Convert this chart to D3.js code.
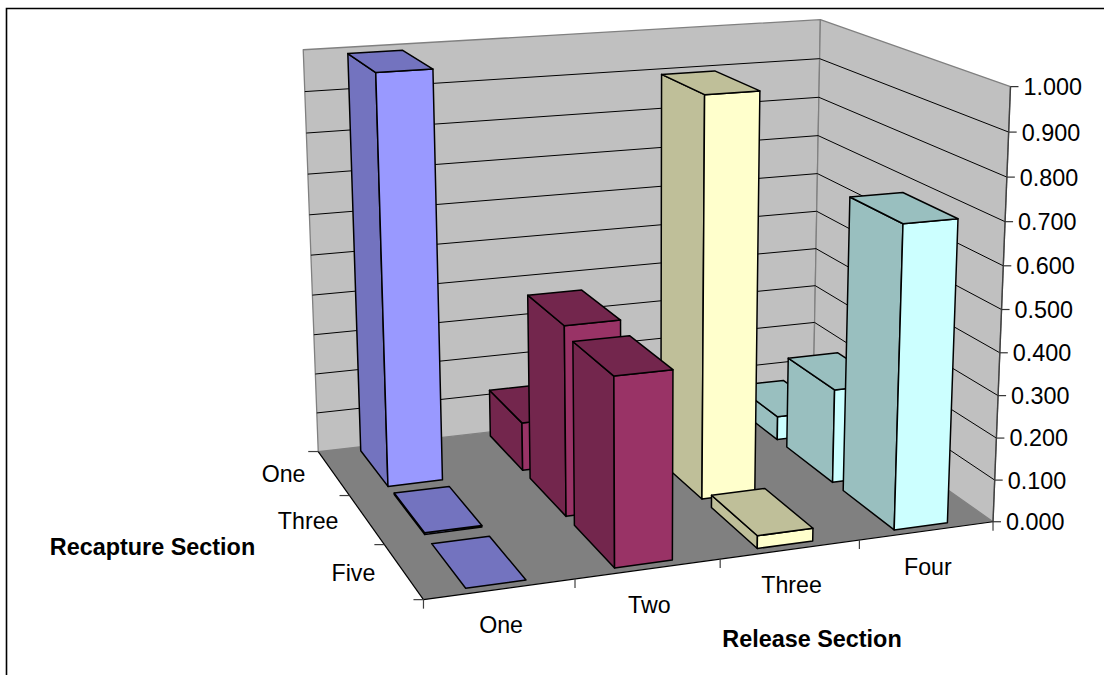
<!DOCTYPE html>
<html><head><meta charset="utf-8">
<style>html,body{margin:0;padding:0;background:#fff;overflow:hidden}svg{display:block}text{font-family:"Liberation Sans",Arial,sans-serif;fill:#000}</style>
<script src="https://d3js.org/d3.v7.min.js"></script></head><body>
<svg id="c" width="1104" height="675"></svg>
<script>
const releaseSections = ["One","Two","Three","Four"];
const recaptureSections = ["One","Three","Five"];
const valueTicks = [0,0.1,0.2,0.3,0.4,0.5,0.6,0.7,0.8,0.9,1.0];
const seriesOne = [0.99,0.12,0.0,0.06];
const seriesThree = [0.004,0.453,0.955,0.23];
const seriesFive = [0.0,0.433,0.03,0.708];
const faceFront = ["#9999FF","#993366","#FFFFCC","#CCFFFF"];
const faceDark = ["#7373BF","#73264D","#BFBF99","#99BFBF"];
const seriesValues = [seriesOne,seriesThree,seriesFive];

// Camera: fit a projective map of the plot cube from its visible corners.
const anchors = [
 [0,0,0,318,451],[1,0,0,813,395],[0,1,0,424,600],[1,1,0,993,522],
 [0,0,1,303,50],[1,0,1,821,20],[1,1,1,1010,86]];
function solve(A,b){const n=b.length;const M=A.map((r,i)=>[...r,b[i]]);
 for(let i=0;i<n;i++){let p=i;for(let k=i+1;k<n;k++)if(Math.abs(M[k][i])>Math.abs(M[p][i]))p=k;
  [M[i],M[p]]=[M[p],M[i]];
  for(let k=0;k<n;k++){if(k===i)continue;const f=M[k][i]/M[i][i];for(let j=i;j<=n;j++)M[k][j]-=f*M[i][j];}}
 return M.map((r,i)=>r[n]/r[i]);}
const rows=[],rhs=[];
anchors.forEach(([u,v,w,x,y])=>{
 rows.push([u,v,w,1,0,0,0,0,-x*u,-x*v,-x*w]);rhs.push(x);
 rows.push([0,0,0,0,u,v,w,1,-y*u,-y*v,-y*w]);rhs.push(y);});
const ATA=d3.range(11).map(i=>d3.range(11).map(j=>d3.sum(rows,r=>r[i]*r[j])));
const ATb=d3.range(11).map(i=>d3.sum(rows,(r,k)=>r[i]*rhs[k]));
const m=solve(ATA,ATb);
function cube(u,v,w){const d=m[8]*u+m[9]*v+m[10]*w+1;
 return [(m[0]*u+m[1]*v+m[2]*w+m[3])/d,(m[4]*u+m[5]*v+m[6]*w+m[7])/d];}

const uScale=d3.scaleLinear().domain([0,releaseSections.length]).range([0,1]);
const vScale=d3.scaleLinear().domain([0,recaptureSections.length]).range([0,1]);
const wScale=d3.scaleLinear().domain([0,1]).range([0,1]);
const P=(i,j,val)=>cube(uScale(i),vScale(j),wScale(val));
const line=d3.line();
const nR=releaseSections.length,nD=recaptureSections.length;

const svg=d3.select("#c");
const poly=(g,pts,fill,stroke,sw)=>g.append("path").attr("d",line(pts)+"Z").attr("fill",fill).attr("stroke",stroke||"none").attr("stroke-width",sw||0).attr("stroke-linejoin","round");
const seg=(g,a,b,c,sw)=>g.append("line").attr("x1",a[0]).attr("y1",a[1]).attr("x2",b[0]).attr("y2",b[1]).attr("stroke",c).attr("stroke-width",sw);

// frame
svg.append("path").attr("d","M6.5,675V8.5H1104").attr("fill","none").attr("stroke","#000").attr("stroke-width",1.6);

// walls and floor
const walls=svg.append("g");
poly(walls,[P(0,0,0),P(nR,0,0),P(nR,0,1),P(0,0,1)],"#C0C0C0","#808080",1.3);
poly(walls,[P(nR,0,0),P(nR,nD,0),P(nR,nD,1),P(nR,0,1)],"#C0C0C0","#808080",1.3);
poly(walls,[P(0,0,0),P(nR,0,0),P(nR,nD,0),P(0,nD,0)],"#808080");
valueTicks.slice(1,-1).forEach(t=>{
 const a=P(0,0,t),b=P(nR,0,t),c=P(nR,nD,t);
 walls.append("path").attr("d",line([a,b,c])).attr("fill","none").attr("stroke","#000").attr("stroke-width",1);
});

// axes edges and ticks
const axes=svg.append("g");
seg(axes,P(0,0,0),P(0,nD,0),"#000",1.2);
seg(axes,P(0,nD,0),P(nR,nD,0),"#000",1.2);
seg(axes,P(nR,nD,0),P(nR,nD,1),"#404040",1.4);
valueTicks.forEach(t=>{
 const a=P(nR,nD,t);
 seg(axes,a,[a[0]+8,a[1]],"#333",1.2);
 axes.append("text").attr("x",a[0]+13).attr("y",a[1]).attr("dy","0.36em").attr("font-size",23.4).text(d3.format(".3f")(t));
});
d3.range(nD+1).forEach(j=>{const a=P(0,j,0);seg(axes,a,[a[0]-10,a[1]],"#404040",1.2);});
d3.range(nR+1).forEach(i=>{const a=P(i,nD,0);seg(axes,a,[a[0],a[1]+9],"#404040",1.2);});
recaptureSections.forEach((s,j)=>{const a=P(0,j+.5,0);
 axes.append("text").attr("x",a[0]-28).attr("y",a[1]+1).attr("dy","0.36em").attr("text-anchor","end").attr("font-size",23.2).text(s);});
releaseSections.forEach((s,i)=>{const a=P(i+.5,nD,0);
 axes.append("text").attr("x",a[0]+1).attr("y",a[1]+35.5).attr("dy","0.36em").attr("text-anchor","middle").attr("font-size",23.2).text(s);});
svg.append("text").attr("x",152.5).attr("y",547).attr("dy","0.36em").attr("text-anchor","middle").attr("font-size",23.4).attr("font-weight","bold").text("Recapture Section");
svg.append("text").attr("x",812).attr("y",639).attr("dy","0.36em").attr("text-anchor","middle").attr("font-size",23.4).attr("font-weight","bold").text("Release Section");

// bars, painted back to front
const halfU=0.2, halfV=0.41;
const bars=svg.append("g");
recaptureSections.forEach((_,j)=>{
 releaseSections.forEach((_,i)=>{
  const val=seriesValues[j][i];
  const u0=i+.5-halfU,u1=i+.5+halfU,v0=j+.5-halfV,v1=j+.5+halfV;
  const g=bars.append("g");
  if(val>0){
   poly(g,[P(u0,v0,0),P(u0,v1,0),P(u0,v1,val),P(u0,v0,val)],faceDark[i],"#000",1.5);
   poly(g,[P(u0,v1,0),P(u1,v1,0),P(u1,v1,val),P(u0,v1,val)],faceFront[i],"#000",1.5);
  }
  poly(g,[P(u0,v0,val),P(u1,v0,val),P(u1,v1,val),P(u0,v1,val)],faceDark[i],"#000",1.5);
 });
});
</script></body></html>
